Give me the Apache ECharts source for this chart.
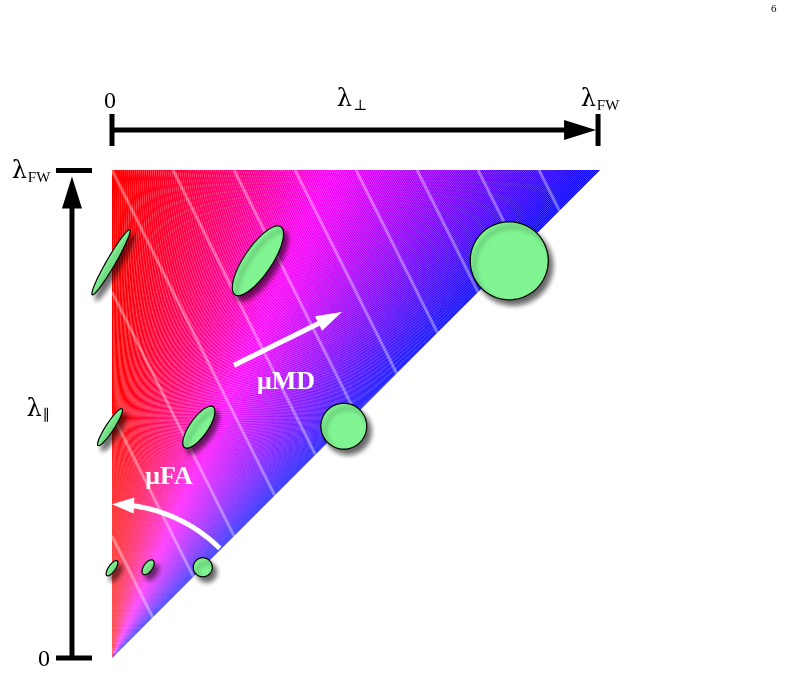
<!DOCTYPE html>
<html><head><meta charset="utf-8">
<script src="https://cdn.jsdelivr.net/npm/echarts@6/dist/echarts.min.js"></script>
<style>html,body{margin:0;padding:0;background:#fff}#c{width:789px;height:675px}</style>
</head><body><div id="c"></div>
<script>
// ellipses: [cx (λ⊥), cy (λ∥), major, minor, angle deg]
var ellipses = [
  [-0.002,0.811,0.154,0.018,60],
  [0.299,0.814,0.168,0.057,56],
  [0.814,0.814,0.160,0.160,0],
  [-0.004,0.473,0.090,0.017,57],
  [0.178,0.473,0.102,0.037,55],
  [0.475,0.475,0.094,0.094,0],
  [0.000,0.184,0.037,0.014,55],
  [0.074,0.186,0.035,0.018,55],
  [0.186,0.186,0.039,0.039,0]
];
// mean diffusivity isoline levels (λ∥ + 2λ⊥ = c)
var mdLevels = [0.25,0.5,0.75,1.0,1.25,1.5,1.75,2.0,2.25,2.5,2.75];
var wedgeCount = 240;
var wedges = [];
for (var i=0;i<wedgeCount;i++) wedges.push([i]);

function colorAt(t){
  var r,g=0,b;
  if (t<0.45){ r=255; b=Math.round(255*Math.pow(t/0.45,1.3)); }
  else { b=255; r=Math.round(255*(1-(t-0.45)/0.55)); }
  return 'rgb('+r+','+g+','+b+')';
}
var chart = echarts.init(document.getElementById('c'));
var serif = '"DejaVu Serif","Liberation Serif",serif';
var tserif = '"Liberation Serif","DejaVu Serif",serif';
function lam(sub){return {rich:{a:{font:'24px '+serif,fill:'#000'},b:{font:'15px '+tserif,fill:'#000',padding:[12,0,0,1]}},text:'{a|λ}{b|'+sub+'}',textAlign:'center',textVerticalAlign:'middle'};}
chart.setOption({
  animation:false,
  grid:{left:112,top:170,width:488,height:488},
  xAxis:{type:'value',min:0,max:1,show:false},
  yAxis:{type:'value',min:0,max:1,show:false},
  series:[
    {type:'custom',data:wedges,clip:false,renderItem:function(p,api){
      var i=api.value(0), t0=i/wedgeCount, t1=(i+1.02)/wedgeCount;
      var o=api.coord([0,0]), a=api.coord([t0,1]), b=api.coord([t1,1]);
      return {type:'polygon',shape:{points:[o,a,b]},style:{fill:colorAt((t0+t1)/2),stroke:null}};
    }},
    {type:'custom',data:mdLevels.map(function(c){return [c];}),clip:false,renderItem:function(p,api){
      var c=api.value(0), s, e=api.coord([c/3,c/3]);
      if (c<=1) s=api.coord([0,c]); else s=api.coord([(c-1)/2,1]);
      return {type:'line',shape:{x1:s[0],y1:s[1],x2:e[0],y2:e[1]},style:{stroke:'rgba(255,255,255,0.35)',lineWidth:3}};
    }},
    {type:'custom',data:ellipses,clip:false,renderItem:function(p,api){
      var c=api.coord([api.value(0),api.value(1)]);
      var sz=api.size([api.value(2),api.value(3)]);
      var ang=api.value(4)*Math.PI/180;
      var rx=sz[0]/2, ry=sz[0]*api.value(3)/api.value(2)/2;
      var pts=[];
      for(var k=0;k<72;k++){var th=k/72*2*Math.PI;var x=rx*Math.cos(th),y=ry*Math.sin(th);
        pts.push([c[0]+x*Math.cos(ang)+y*Math.sin(ang), c[1]-x*Math.sin(ang)+y*Math.cos(ang)]);}
      return {type:'polygon',shape:{points:pts},style:{fill:'#80f592',stroke:'#000',lineWidth:1.2,
        shadowColor:'rgba(0,0,0,0.6)',shadowBlur:5,shadowOffsetX:4,shadowOffsetY:5}};
    }},
    {type:'custom',data:[[0]],clip:false,renderItem:function(p,api){
      var els=[];
      var s=api.coord([0.250,0.600]), e=api.coord([0.471,0.709]);
      var dx=e[0]-s[0], dy=e[1]-s[1], L=Math.sqrt(dx*dx+dy*dy), ux=dx/L, uy=dy/L;
      var hb=[e[0]-ux*26,e[1]-uy*26];
      els.push({type:'line',shape:{x1:s[0],y1:s[1],x2:hb[0]+ux*4,y2:hb[1]+uy*4},style:{stroke:'#fff',lineWidth:5}});
      els.push({type:'polygon',shape:{points:[e,[hb[0]-uy*8,hb[1]+ux*8],[hb[0]+uy*8,hb[1]-ux*8]]},style:{fill:'#fff'}});
      var R=0.315, pts=[];
      for(var k=0;k<=30;k++){var a=(45.5+k/30*(84-45.5))*Math.PI/180; pts.push(api.coord([R*Math.cos(a),R*Math.sin(a)]));}
      els.push({type:'polyline',shape:{points:pts},style:{stroke:'#fff',lineWidth:5,fill:null}});
      var tip=api.coord([0,R]), bb=pts[pts.length-1];
      var ddx=tip[0]-bb[0], ddy=tip[1]-bb[1], LL=Math.sqrt(ddx*ddx+ddy*ddy); ddx/=LL; ddy/=LL;
      var base=[tip[0]-ddx*22,tip[1]-ddy*22];
      els.push({type:'polygon',shape:{points:[tip,[base[0]-ddy*8,base[1]+ddx*8],[base[0]+ddy*8,base[1]-ddx*8]]},style:{fill:'#fff'}});
      els.push({type:'text',style:{x:286,y:382,text:'μMD',font:'bold 26px '+tserif,fill:'#fff',textAlign:'center',textVerticalAlign:'middle'}});
      els.push({type:'text',style:{x:169,y:477,text:'μFA',font:'bold 26px '+tserif,fill:'#fff',textAlign:'center',textVerticalAlign:'middle'}});
      var t0=api.coord([0,1.082]), t1=api.coord([0.996,1.082]);
      els.push({type:'line',shape:{x1:t0[0],y1:t0[1],x2:t1[0]-20,y2:t1[1]},style:{stroke:'#000',lineWidth:5}});
      els.push({type:'polygon',shape:{points:[[t1[0]-2,t1[1]],[t1[0]-34,t1[1]-10],[t1[0]-34,t1[1]+10]]},style:{fill:'#000'}});
      els.push({type:'line',shape:{x1:t0[0],y1:t0[1]-16,x2:t0[0],y2:t0[1]+16},style:{stroke:'#000',lineWidth:5}});
      els.push({type:'line',shape:{x1:t1[0],y1:t1[1]-16,x2:t1[0],y2:t1[1]+16},style:{stroke:'#000',lineWidth:5}});
      var l0=api.coord([-0.082,0]), l1=api.coord([-0.082,0.995]);
      els.push({type:'line',shape:{x1:l0[0],y1:l0[1],x2:l1[0],y2:l1[1]+28},style:{stroke:'#000',lineWidth:5}});
      els.push({type:'polygon',shape:{points:[[l1[0],l1[1]+4],[l1[0]-10,l1[1]+36],[l1[0]+10,l1[1]+36]]},style:{fill:'#000'}});
      els.push({type:'line',shape:{x1:l0[0]-16,y1:l0[1],x2:l0[0]+20,y2:l0[1]},style:{stroke:'#000',lineWidth:5}});
      els.push({type:'line',shape:{x1:l1[0]-16,y1:l1[1]-2,x2:l1[0]+20,y2:l1[1]-2},style:{stroke:'#000',lineWidth:5}});
      return {type:'group',children:els};
    }}
  ],
  graphic:[
    {type:'text',left:771,top:4,z:100,style:{text:'6',font:'11px '+tserif,fill:'#000'}},
    {type:'text',x:110,y:102,z:100,style:{text:'0',font:'24px '+tserif,fill:'#000',textAlign:'center',textVerticalAlign:'middle'}},
    {type:'text',x:352,y:100,z:100,style:lam('⊥')},
    {type:'text',x:600,y:100,z:100,style:lam('FW')},
    {type:'text',x:31,y:172,z:100,style:lam('FW')},
    {type:'text',x:38,y:410,z:100,style:lam('∥')},
    {type:'text',x:44,y:660,z:100,style:{text:'0',font:'24px '+tserif,fill:'#000',textAlign:'center',textVerticalAlign:'middle'}}
  ]
});
</script></body></html>
